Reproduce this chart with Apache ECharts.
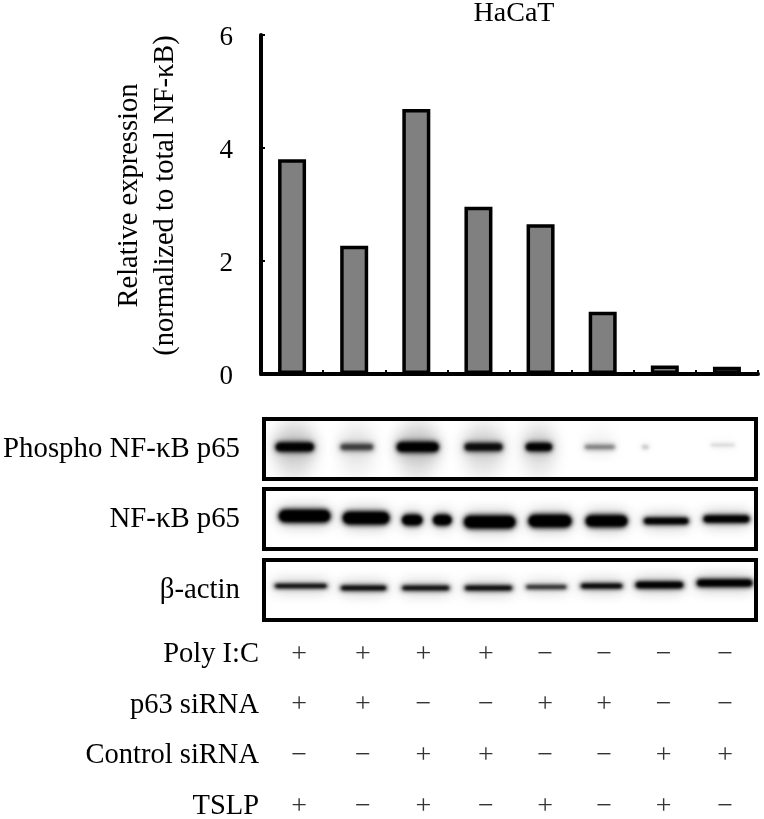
<!DOCTYPE html>
<html><head><meta charset="utf-8">
<style>html,body{margin:0;padding:0;background:#fff}#c{width:764px;height:819px}</style>
<script src="https://cdn.jsdelivr.net/npm/echarts@6/dist/echarts.min.js"></script>
</head><body><div id="c"></div>
<script>
var lanes = ['1','2','3','4','5','6','7','8'];
var relativeExpression = [3.80, 2.27, 4.69, 2.96, 2.65, 1.10, 0.15, 0.13];
var yTicks = [0, 2, 4, 6];

// blot bands: centre (lane units 0-8), width (lanes), level (0-60), thickness, darkness
var phosphoCenter = [0.5, 1.51, 2.5, 3.57, 4.47, 5.46, 6.2, 7.46, 0.5, 1.51, 2.5, 3.57, 4.47, 5.46];
var phosphoWidth  = [0.64, 0.56, 0.7, 0.64, 0.44, 0.52, 0.12, 0.42, 0.62, 0.52, 0.62, 0.62, 0.52, 0.45];
var phosphoLevel  = [32, 32, 32, 32, 32, 32, 32, 34, 30, 30, 30, 30, 30, 40];
var phosphoThick  = [10, 8, 11, 9, 9, 6, 5, 3, 60, 58, 60, 58, 58, 30];
var phosphoDark   = [0.95, 0.5, 1, 0.8, 0.95, 0.3, 0.15, 0.12, 0.14, 0.07, 0.14, 0.11, 0.1, 0.03];

var totalCenter = [0.66, 1.66, 2.41, 2.9, 3.67, 4.65, 5.57, 6.54, 7.52];
var totalWidth  = [0.86, 0.78, 0.34, 0.31, 0.86, 0.72, 0.7, 0.75, 0.77];
var totalLevel  = [33, 31, 29, 29, 27, 28, 28, 28, 30];
var totalThick  = [14, 14, 12, 12, 14, 14, 13, 7, 8];
var totalDark   = [1, 1, 1, 1, 1, 1, 1, 1, 1];

var actinCenter = [0.6, 1.62, 2.63, 3.65, 4.59, 5.49, 6.43, 7.49];
var actinWidth  = [0.88, 0.77, 0.8, 0.8, 0.69, 0.7, 0.8, 0.93];
var actinLevel  = [34, 32, 32, 32, 33, 34, 35, 37];
var actinThick  = [4, 5, 5, 5, 4, 5, 7, 8];
var actinDark   = [1, 0.95, 0.9, 0.95, 0.75, 1, 1, 1];

var rowNames = ['Poly I:C', 'p63 siRNA', 'Control siRNA', 'TSLP'];
var columnPos = [0.57, 1.61, 2.59, 3.61, 4.57, 5.53, 6.5, 7.5];
var polyIC  = ['+', '+', '+', '+', '\u2212', '\u2212', '\u2212', '\u2212'];
var p63     = ['+', '+', '\u2212', '\u2212', '+', '+', '\u2212', '\u2212'];
var control = ['\u2212', '\u2212', '+', '+', '\u2212', '\u2212', '+', '+'];
var tslp    = ['+', '\u2212', '+', '\u2212', '+', '\u2212', '+', '\u2212'];
var rowMarks = [polyIC, p63, control, tslp];

var FONT = '"Liberation Serif","Times New Roman",serif';
var INK = '#000';
var FAR = 3000;

function bandRows(c, w, l, t, d) {
  return c.map(function (v, i) { return [v, l[i], w[i], t[i], d[i]]; });
}
// only the blurred shadow of an off-canvas rectangle lands on the blot
function softRect(p, s, alpha, blur) {
  return {
    type: 'rect',
    shape: { x: p[0] - s[0] / 2 - FAR, y: p[1] - s[1] / 2, width: s[0], height: s[1], r: Math.min(s[0], s[1]) / 2 },
    style: { fill: '#000', shadowBlur: blur, shadowOffsetX: FAR, shadowColor: 'rgba(0,0,0,' + alpha + ')' }
  };
}
function renderBand(params, api) {
  var p = api.coord([api.value(0), api.value(1)]);
  var s = api.size([api.value(2), api.value(3)]);
  var dark = api.value(4);
  if (s[1] > 20) return softRect(p, s, dark, 16);
  return { type: 'group', children: [
    softRect(p, [s[0], s[1] + 5], dark * 0.28, 14),
    softRect(p, s, dark, 5),
    softRect(p, [s[0] * 0.94, s[1] * 0.7], dark, 3)
  ] };
}
function blotGrid(top, height) {
  return { left: 264, width: 492, top: top, height: height, show: true, borderColor: INK, borderWidth: 4, backgroundColor: '#fff' };
}
function hiddenX(idx) {
  return { gridIndex: idx, type: 'value', min: 0, max: 8, show: false };
}
function blotY(idx, name) {
  return {
    gridIndex: idx, type: 'value', min: 0, max: 60, name: name, nameLocation: 'middle', nameRotate: 0, nameGap: 24,
    nameTextStyle: { fontFamily: FONT, fontSize: 28.8, color: INK, align: 'right', verticalAlign: 'middle', padding: [0, 0, 8, 0] },
    axisLine: { show: false }, axisTick: { show: false }, axisLabel: { show: false }, splitLine: { show: false }
  };
}
function bandSeries(idx, rows) {
  return { type: 'custom', xAxisIndex: idx, yAxisIndex: idx, clip: true, silent: true, renderItem: renderBand, data: rows,
    encode: { x: 0, y: 1 } };
}

var markData = [];
rowNames.forEach(function (r, ri) {
  rowMarks[ri].forEach(function (m, ci) {
    markData.push({ value: [columnPos[ci], r], mark: m });
  });
});

var option = {
  animation: false,
  backgroundColor: '#fff',
  title: { text: 'HaCaT', left: 509, top: -5, textAlign: 'center',
    textStyle: { fontFamily: FONT, fontSize: 28, fontWeight: 'normal', color: INK } },
  grid: [
    { left: 261, width: 497, top: 35, height: 339 },
    blotGrid(419, 60),
    blotGrid(489, 60),
    blotGrid(560, 60),
    { left: 264, width: 492, top: 629, height: 203, outerBoundsMode: 'none' }
  ],
  xAxis: [
    { gridIndex: 0, type: 'category', data: lanes,
      axisLine: { lineStyle: { color: INK, width: 4 } },
      axisTick: { show: true, inside: true, length: 4, lineStyle: { color: INK, width: 2 } },
      axisLabel: { show: false } },
    hiddenX(1), hiddenX(2), hiddenX(3), hiddenX(4)
  ],
  yAxis: [
    { gridIndex: 0, type: 'value', min: 0, max: 6, interval: 2,
      name: 'Relative expression\n(normalized to total NF-\u03BAB)', nameLocation: 'middle', nameGap: 77, nameRotate: 90,
      nameTextStyle: { fontFamily: FONT, fontSize: 28.5, lineHeight: 36, color: INK, padding: [0, 0, 0, 18] },
      axisLine: { show: true, lineStyle: { color: INK, width: 4 } },
      axisTick: { show: true, inside: true, length: 4, lineStyle: { color: INK, width: 2 } },
      axisLabel: { fontFamily: FONT, fontSize: 27, color: INK, margin: 28, verticalAlign: 'top', lineHeight: 6,
        formatter: function (v) { return yTicks.indexOf(v) >= 0 ? String(v) : ''; } },
      splitLine: { show: false } },
    blotY(1, 'Phospho NF-\u03BAB p65'),
    blotY(2, 'NF-\u03BAB p65'),
    blotY(3, '\u03B2-actin'),
    { gridIndex: 4, type: 'category', inverse: true, data: rowNames,
      axisLine: { show: false }, axisTick: { show: false },
      axisLabel: { fontFamily: FONT, fontSize: 28.5, color: INK, margin: 5 } }
  ],
  series: [
    { type: 'bar', xAxisIndex: 0, yAxisIndex: 0, data: relativeExpression, barWidth: 28,
      itemStyle: { color: '#808080', borderColor: INK, borderWidth: 3.5 }, silent: true },
    bandSeries(1, bandRows(phosphoCenter, phosphoWidth, phosphoLevel, phosphoThick, phosphoDark).reverse()),
    bandSeries(2, bandRows(totalCenter, totalWidth, totalLevel, totalThick, totalDark)),
    bandSeries(3, bandRows(actinCenter, actinWidth, actinLevel, actinThick, actinDark)),
    { type: 'scatter', xAxisIndex: 4, yAxisIndex: 4, symbolSize: 0, silent: true, data: markData,
      label: { show: true, position: 'inside', fontFamily: FONT, fontSize: 28, color: INK,
        formatter: function (p) { return p.data.mark; } } }
  ]
};
echarts.init(document.getElementById('c'), null, { renderer: 'canvas' }).setOption(option);
</script></body></html>
